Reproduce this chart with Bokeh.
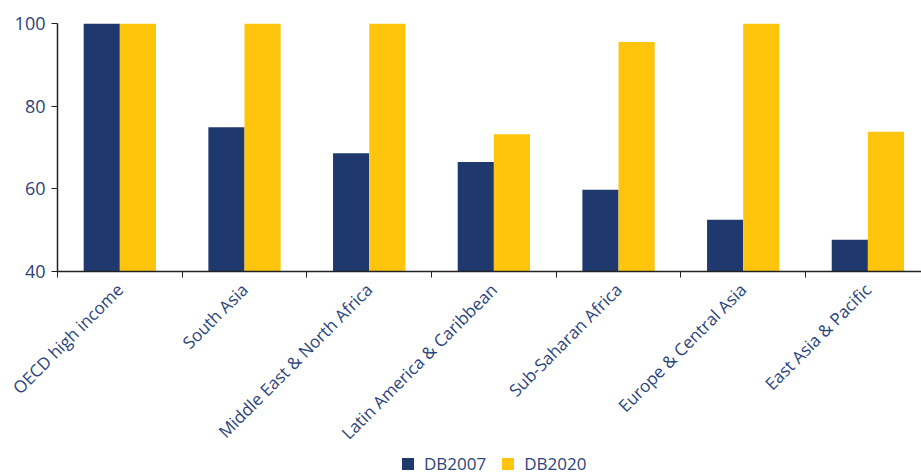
import math
from bokeh.plotting import figure
from bokeh.layouts import column
from bokeh.models import FixedTicker, Legend, LegendItem, ColumnDataSource, Range1d
from bokeh.embed import file_html
from bokeh.resources import INLINE

categories = ["OECD high income", "South Asia", "Middle East & North Africa",
              "Latin America & Caribbean", "Sub-Saharan Africa",
              "Europe & Central Asia", "East Asia & Pacific"]
db2007 = [100, 74.9, 68.6, 66.5, 59.8, 52.5, 47.7]
db2020 = [100, 100, 100, 73.2, 95.5, 100, 73.8]
y_ticks = [40, 60, 80, 100]
series_names = ["DB2007", "DB2020"]

NAVY = "#1F386E"
YELLOW = "#FFC50D"
TEXT = "#2A437C"
FONT = "Open Sans"

centers = [i + 0.5 for i in range(len(categories))]
bw = 0.29
src = ColumnDataSource(dict(
    x1=[c - bw / 2 for c in centers],
    x2=[c + bw / 2 for c in centers],
    a=db2007, b=db2020,
))

p = figure(frame_width=864, frame_height=248, output_backend="svg", toolbar_location=None,
           x_range=Range1d(0, 6.93), y_range=Range1d(40, 100),
           min_border_left=57, min_border_right=0, min_border_top=23,
           min_border_bottom=170)
p.outline_line_color = None
p.grid.visible = False

p.vbar(x="x1", top="a", bottom=40, width=bw, source=src, fill_color=NAVY, line_color=None)
p.vbar(x="x2", top="b", bottom=40, width=bw, source=src, fill_color=YELLOW, line_color=None)

xa = p.xaxis[0]
xa.ticker = FixedTicker(ticks=centers, minor_ticks=list(range(len(categories) + 1)))
xa.major_label_overrides = {c: lab for c, lab in zip(centers, categories)}
xa.major_tick_out = 0
xa.major_tick_in = 0
xa.minor_tick_out = 6
xa.minor_tick_in = 0
xa.minor_tick_line_color = "#222222"
xa.axis_line_color = "#222222"
xa.axis_line_width = 1.5
xa.major_label_orientation = math.pi / 4
xa.major_label_text_font = FONT
xa.major_label_text_font_size = "17px"
xa.major_label_text_color = TEXT
xa.major_label_standoff = 9

ya = p.yaxis[0]
ya.ticker = FixedTicker(ticks=y_ticks)
ya.minor_tick_line_color = None
ya.major_tick_out = 6
ya.major_tick_in = 0
ya.major_tick_line_color = "#222222"
ya.axis_line_color = "#222222"
ya.axis_line_width = 1.5
ya.major_label_text_font = FONT
ya.major_label_text_font_size = "18px"
ya.major_label_text_color = TEXT
ya.major_label_standoff = 6

# legend strip below the chart
lg = figure(frame_width=864, frame_height=16, output_backend="svg", toolbar_location=None,
            x_range=Range1d(0, 1), y_range=Range1d(0, 1),
            x_axis_type=None, y_axis_type=None,
            min_border_left=57, min_border_right=0, min_border_top=0, min_border_bottom=0)
lg.outline_line_color = None
hidden = ColumnDataSource(dict(x=[-10], top=[-5]))
l1 = lg.vbar(x="x", top="top", bottom=-10, width=0.1, source=hidden, fill_color=NAVY, line_color=None)
l2 = lg.vbar(x="x", top="top", bottom=-10, width=0.1, source=hidden, fill_color=YELLOW, line_color=None)

legend = Legend(items=[LegendItem(label=series_names[0], renderers=[l1]),
                       LegendItem(label=series_names[1], renderers=[l2])],
                orientation="horizontal", location=(343, -4),
                label_text_font=FONT, label_text_font_size="17px",
                label_text_color=TEXT, glyph_width=15, glyph_height=15,
                spacing=14, label_standoff=9, border_line_color=None,
                padding=0, margin=0, background_fill_alpha=0,
                label_height=15)
lg.add_layout(legend, "center")

layout = column(p, lg, spacing=0)
open("out.html", "w").write(file_html(layout, INLINE))
